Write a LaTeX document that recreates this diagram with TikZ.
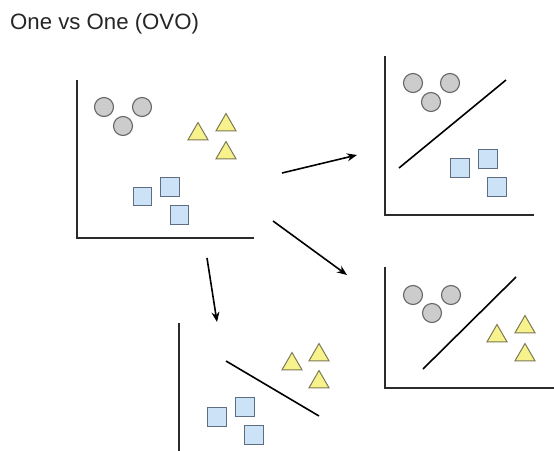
\documentclass[tikz,border=0pt]{standalone}
\usepackage{fontspec}
\setmainfont{Liberation Sans}
\usetikzlibrary{shapes.geometric,arrows.meta}
\definecolor{dotfill}{HTML}{CCCCCC}
\definecolor{dotline}{HTML}{666666}
\definecolor{trifill}{HTML}{F7F28C}
\definecolor{triline}{HTML}{7D7A55}
\definecolor{sqfill}{HTML}{CCE3F7}
\definecolor{sqline}{HTML}{5E6E82}
\definecolor{axiscol}{HTML}{2B2B2B}
\tikzset{
  dot/.style={circle,draw=dotline,fill=dotfill,line width=1.1pt,minimum size=19pt,inner sep=0pt},
  tri/.style={regular polygon,regular polygon sides=3,draw=triline,fill=trifill,line width=1pt,minimum size=23pt,inner sep=0pt},
  sq/.style={rectangle,draw=sqline,fill=sqfill,line width=1pt,minimum size=18.5pt,inner sep=0pt},
  axis/.style={draw=axiscol,line width=2pt},
  sep/.style={draw=black,line width=1.6pt},
  flow/.style={draw=black,line width=1.6pt,-{Stealth[length=10pt,width=8pt]}},
}
\begin{document}
\begin{tikzpicture}[x=1pt,y=-1pt]
\useasboundingbox (0,0) rectangle (554,450);
\node[anchor=base west,inner sep=0pt,font=\fontsize{22.2}{25}\selectfont,text=black!85] (title) at (10,29) {One vs One (OVO)};

% full data set
\draw[axis] (77,80) -- (77,238) -- (254,238);
\node[dot] (a1) at (104,107) {};
\node[dot] (a2) at (142,107) {};
\node[dot] (a3) at (123,126) {};
\node[tri] (a4) at (198,134) {};
\node[tri] (a5) at (226,125) {};
\node[tri] (a6) at (226,153) {};
\node[sq] (a7) at (142.5,196.5) {};
\node[sq] (a8) at (170,187) {};
\node[sq] (a9) at (179.5,215) {};

% circles vs squares
\draw[axis] (385,56) -- (385,215) -- (534,215);
\node[dot] (b1) at (413,83) {};
\node[dot] (b2) at (450,83) {};
\node[dot] (b3) at (431,102) {};
\node[sq] (b4) at (460,168) {};
\node[sq] (b5) at (488,159) {};
\node[sq] (b6) at (497,187) {};
\coordinate (bl1) at (399,168);
\coordinate (bl2) at (506,80);
\draw[sep] (bl1) -- (bl2);

% circles vs triangles
\draw[axis] (385,267) -- (385,388) -- (556,388);
\node[dot] (c1) at (413,295) {};
\node[dot] (c2) at (451,295) {};
\node[dot] (c3) at (432,313) {};
\node[tri] (c4) at (497,336) {};
\node[tri] (c5) at (525,327) {};
\node[tri] (c6) at (525,355) {};
\coordinate (cl1) at (423,369);
\coordinate (cl2) at (516,277);
\draw[sep] (cl1) -- (cl2);

% triangles vs squares
\draw[axis] (179,323) -- (179,452);
\node[tri] (d1) at (292,364) {};
\node[tri] (d2) at (319,355) {};
\node[tri] (d3) at (319,382) {};
\node[sq] (d4) at (217,417) {};
\node[sq] (d5) at (245,407) {};
\node[sq] (d6) at (254,435) {};
\coordinate (dl1) at (226,361);
\coordinate (dl2) at (319,416);
\draw[sep] (dl1) -- (dl2);

% pairwise split arrows
\coordinate (s1) at (282,173);
\coordinate (e1) at (357,155);
\coordinate (s2) at (273,221);
\coordinate (e2) at (347,275);
\coordinate (s3) at (207,258);
\coordinate (e3) at (217,322);
\draw[flow] (s1) -- (e1);
\draw[flow] (s2) -- (e2);
\draw[flow] (s3) -- (e3);
\end{tikzpicture}
\end{document}
